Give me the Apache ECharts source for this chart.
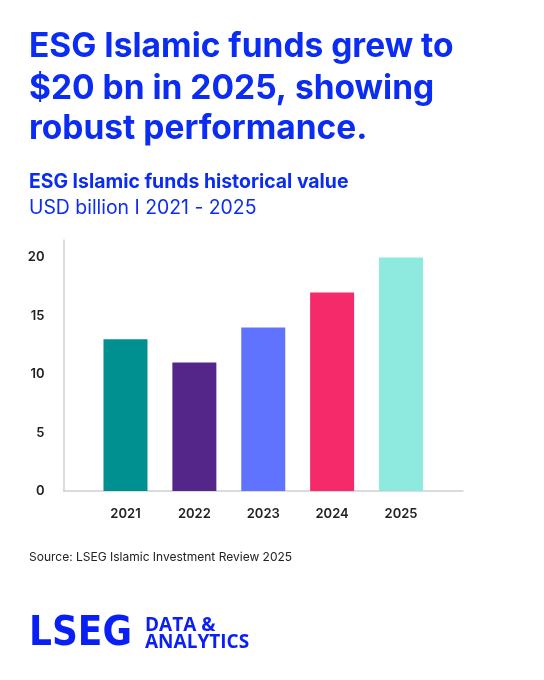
<!DOCTYPE html>
<html>
<head>
<meta charset="utf-8">
<script src="https://cdn.jsdelivr.net/npm/echarts@6/dist/echarts.min.js"></script>
<style>
  html, body { margin: 0; padding: 0; background: #fff; }
  #chart { width: 544px; height: 680px; }
</style>
</head>
<body>
<div id="chart"></div>
<script>
const years = ["2021", "2022", "2023", "2024", "2025"];
const fundValues = [13, 11, 14, 17, 20];
const barColors = ["#00908f", "#54268a", "#6073ff", "#f52a6a", "#8eeadf"];
const yTicks = [0, 5, 10, 15, 20];

const blue = "#0b2cf2";
const font = "Inter";

const chart = echarts.init(document.getElementById("chart"));

function titleLine(text, y, size, weight) {
  return {
    type: "text",
    left: 29,
    top: y,
    style: { text, fill: blue, font: `${weight} ${size}px ${font}` },
  };
}

chart.setOption({
  backgroundColor: "#fff",
  animation: false,
  grid: { left: 63.5, right: 81, top: 240, bottom: 189 },
  xAxis: {
    type: "value",
    min: -0.9,
    max: 4.9,
    splitLine: { show: false },
    axisTick: { show: false },
    axisLine: { show: true, onZero: false, lineStyle: { color: "#cfcfcf", width: 1.5 } },
    axisLabel: {
      customValues: years.map((_, i) => i),
      formatter: (v) => years[v] ?? "",
      color: "#222",
      fontFamily: font,
      fontWeight: 600,
      fontSize: 13,
      margin: 17,
    },
  },
  yAxis: {
    type: "value",
    min: 0,
    max: 21.5,
    splitLine: { show: false },
    axisTick: { show: false },
    axisLine: { show: true, onZero: false, lineStyle: { color: "#cfcfcf", width: 1.5 } },
    axisLabel: {
      customValues: yTicks,
      color: "#222",
      fontFamily: font,
      fontWeight: 600,
      fontSize: 13,
      margin: 19,
    },
  },
  series: [{
    type: "bar",
    barWidth: 44,
    data: fundValues.map((v, i) => ({
      value: [i, v],
      itemStyle: { color: barColors[i] },
    })),
  }],
  graphic: [
    titleLine("ESG Islamic funds grew to", 30, 33.5, 700),
    titleLine("$20 bn in 2025, showing", 72, 33.5, 700),
    titleLine("robust performance.", 112, 33.5, 700),
    titleLine("ESG Islamic funds historical value", 173, 19.4, 700),
    titleLine("USD billion I 2021 - 2025", 199, 19.4, 400),
    {
      type: "text",
      left: 29,
      top: 551,
      style: { text: "Source: LSEG Islamic Investment Review 2025", fill: "#222", font: `400 12px ${font}` },
    },
    {
      type: "text",
      left: 29,
      top: 615,
      style: { text: "LSEG", fill: "#0a1ff5", font: "700 40px 'DejaVu Sans Condensed'" },
    },
    {
      type: "text",
      left: 145,
      top: 616,
      style: { text: "DATA &\nANALYTICS", fill: "#0a1ff5", font: "700 19px 'Open Sans'", lineHeight: 17 },
    },
  ],
});
</script>
</body>
</html>
